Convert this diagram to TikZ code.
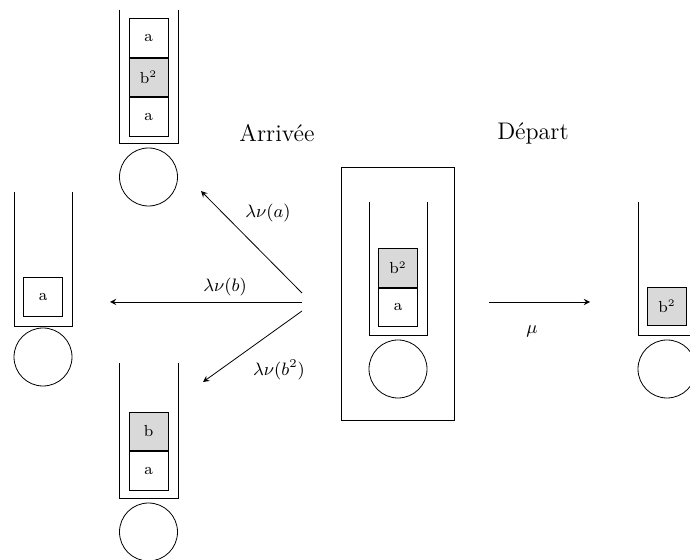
\documentclass[tikz,border=0pt]{standalone}
\usetikzlibrary{positioning}
\begin{document}
\begin{tikzpicture}[x=.5pt,y=-.5pt,>=stealth,
  cell/.style={draw,minimum width=19.5pt,minimum height=19.3pt,inner sep=0pt,font=\footnotesize},
  full/.style={cell,fill=gray!30},
  server/.style={draw,circle,minimum size=29pt,inner sep=0pt},
  rate/.style={font=\small}]
  \useasboundingbox (0,0) rectangle (690,560); \clip (0,0) rectangle (690,560);
  % files d'attente
  \draw (119,10)--(119,143)--(178,143)--(178,10); \draw (14,192)--(14,326)--(72,326)--(72,192);
  \draw (119,363)--(119,498)--(178,498)--(178,363); \draw (369,202)--(369,335)--(427,335)--(427,202);
  \draw (638,202)--(638,335)--(697,335)--(697,202); \draw (341,167) rectangle (454,420);
  % clients
  \node[cell] (ta1) at (148.5,38) {a}; \node[full,below=0pt of ta1] (tb) {b$^{\scriptscriptstyle 2}$}; \node[cell,below=0pt of tb] (ta2) {a};
  \node[cell] (la) at (43,297) {a};
  \node[full] (bb) at (148.5,431.5) {b}; \node[cell,below=0pt of bb] (ba) {a};
  \node[full] (mb) at (398,268) {b$^{\scriptscriptstyle 2}$}; \node[cell,below=0pt of mb] (ma) {a};
  \node[full] (rb) at (667,306.5) {b$^{\scriptscriptstyle 2}$};
  % serveurs
  \node[server] (ts) at (148.5,177) {}; \node[server] (ls) at (43,357) {}; \node[server] (bs) at (148.5,532) {};
  \node[server] (ms) at (398,369) {}; \node[server] (rs) at (667,369) {};
  % transitions
  \coordinate (oa) at (302,293); \coordinate (ob) at (302,302); \coordinate (oc) at (302,311);
  \coordinate (ea) at (201,191); \coordinate (eb) at (110,302); \coordinate (ec) at (203,382);
  \coordinate (om) at (489,302); \coordinate (em) at (590,302);
  \draw[->] (oa)--(ea); \draw[->] (ob)--(eb); \draw[->] (oc)--(ec); \draw[->] (om)--(em);
  \node[rate] (la1) at (268,213) {$\lambda\nu(a)$}; \node[rate] (lb1) at (225,287) {$\lambda\nu(b)$};
  \node[rate] (lc1) at (279,370) {$\lambda\nu(b^2)$}; \node[rate] (mu) at (532,331) {$\mu$};
  \node[font=\large] (arr) at (277,133) {Arrivée}; \node[font=\large] (dep) at (533,133) {Départ};
\end{tikzpicture}
\end{document}
